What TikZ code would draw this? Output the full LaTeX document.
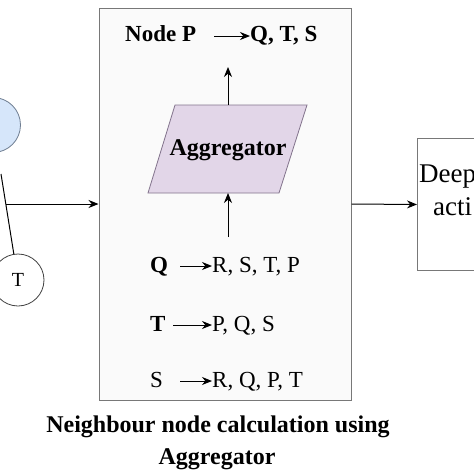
\documentclass[tikz,border=0pt]{standalone}
\usepackage{fontspec}
\setmainfont{Liberation Serif}
\usetikzlibrary{arrows.meta}
\definecolor{boxgray}{RGB}{120,120,120}
\definecolor{boxfill}{RGB}{250,250,250}
\definecolor{aggfill}{RGB}{226,214,232}
\definecolor{aggline}{RGB}{130,115,140}
\definecolor{bluefill}{RGB}{214,230,250}
\definecolor{blueline}{RGB}{110,125,145}
\tikzset{
  arr/.style={-{Stealth[length=10pt,width=8pt]}, line width=1pt, black},
  plain/.style={line width=1pt, black},
  bigbox/.style={draw=boxgray, line width=1pt, fill=boxfill, inner sep=0pt},
  txt/.style={inner sep=0pt, font=\fontsize{23}{26}\selectfont, anchor=base west},
  btxt/.style={txt, font=\fontsize{23}{26}\selectfont\bfseries},
  dtxt/.style={txt, font=\fontsize{27}{30}\selectfont},
  circ/.style={circle, draw=black!75, line width=0.8pt, inner sep=0pt, fill=white},
  aggshape/.style={draw=aggline, fill=aggfill, line width=0.8pt}
}
\begin{document}
\begin{tikzpicture}[x=1pt,y=-1pt]
\useasboundingbox (0,0) rectangle (474,474);
\begin{scope}
\clip (0,0) rectangle (474,474);
% left partial graph
\node[circ, fill=bluefill, draw=blueline, minimum size=55pt] (bc) at (-7,125) {};
\node[circ, minimum size=52pt, font=\fontsize{20}{22}\selectfont] (tc) at (18,280) {T};
\coordinate (ltop) at (1,174);
\draw[plain] (ltop) -- (tc);
\coordinate (lstart) at (6,204);
% main box
\node[bigbox, minimum width=252pt, minimum height=392pt] (main) at (225,204) {};
\draw[arr] (lstart) -- (main.west);
% deep box
\node[bigbox, fill=white, minimum width=110pt, minimum height=132pt, anchor=north west] (deep) at (417,138) {};
\draw[arr] (main.east) -- (deep.west);
\node[dtxt] (deept) at (419,182) {Deep};
\node[dtxt] (actt) at (433,215) {acti};
\end{scope}
% top line
\node[btxt] (nodep) at (125,41) {Node P};
\node[btxt] (qts) at (250,41) {Q, T, S};
\coordinate (pa1) at (214,36);
\draw[arr] (pa1) -- (qts.west |- pa1);
% aggregator
\coordinate (aggtl) at (175,105);
\coordinate (aggtr) at (307,105);
\coordinate (aggbr) at (279,193);
\coordinate (aggbl) at (148,193);
\draw[aggshape] (aggtl) -- (aggtr) -- (aggbr) -- (aggbl) -- cycle;
\node[inner sep=0pt, font=\fontsize{24}{26}\selectfont\bfseries] (agg) at (228,150) {Aggregator};
\coordinate (aggtop) at (228,105);
\coordinate (aggbot) at (228,193);
\coordinate (pout) at (228,67);
\draw[arr] (aggtop) -- (pout);
\coordinate (pin) at (228,237);
\draw[arr] (pin) -- (aggbot);
% rows
\node[btxt] (q) at (150,272) {Q};
\node[txt] (ql) at (212,272) {R, S, T, P};
\coordinate (qa) at (180,266);
\draw[arr] (qa) -- (ql.west |- qa);
\node[btxt] (t) at (150,331) {T};
\node[txt] (tl) at (212,331) {P, Q, S};
\coordinate (ta) at (173,325);
\draw[arr] (ta) -- (tl.west |- ta);
\node[txt] (s) at (150,387) {S};
\node[txt] (sl) at (212,387) {R, Q, P, T};
\coordinate (sa) at (180,381);
\draw[arr] (sa) -- (sl.west |- sa);
% caption
\node[inner sep=0pt, anchor=base, font=\fontsize{24}{26}\selectfont\bfseries] (cap1) at (218,432) {Neighbour node calculation using};
\node[inner sep=0pt, anchor=base, font=\fontsize{24}{26}\selectfont\bfseries] (cap2) at (217,464) {Aggregator};
\end{tikzpicture}
\end{document}
